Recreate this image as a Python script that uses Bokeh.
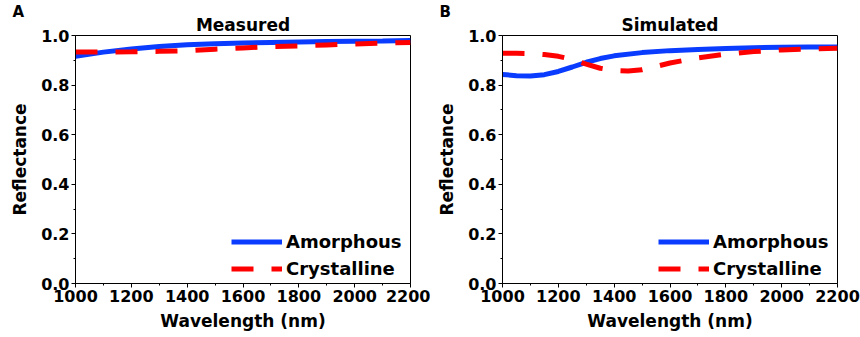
from bokeh.plotting import figure
from bokeh.layouts import row
from bokeh.models import FixedTicker, Range1d, Legend, LegendItem, CustomJSTickFormatter, Title
from bokeh.embed import file_html
from bokeh.resources import INLINE

# ---- data ----
meas_wl = [1000, 1100, 1200, 1300, 1400, 1500, 1600, 1700, 1800, 1900, 2000, 2100, 2200]
meas_amorphous = [0.916, 0.933, 0.946, 0.956, 0.963, 0.967, 0.970, 0.972, 0.974, 0.976, 0.977, 0.978, 0.980]
meas_crystalline = [0.933, 0.933, 0.934, 0.936, 0.939, 0.945, 0.950, 0.955, 0.958, 0.962, 0.966, 0.969, 0.972]

sim_wl_a = [1000, 1050, 1100, 1150, 1200, 1250, 1300, 1350, 1400, 1500, 1600, 1700, 1800, 1900, 2000, 2100, 2200]
sim_amorphous = [0.843, 0.838, 0.837, 0.842, 0.855, 0.873, 0.892, 0.907, 0.918, 0.931, 0.939, 0.944, 0.948, 0.951, 0.953, 0.954, 0.954]
sim_wl_c = [1000, 1050, 1100, 1150, 1200, 1250, 1300, 1350, 1400, 1450, 1500, 1550, 1600, 1700, 1800, 1900, 2000, 2100, 2200]
sim_crystalline = [0.928, 0.928, 0.927, 0.923, 0.916, 0.903, 0.885, 0.868, 0.859, 0.857, 0.862, 0.875, 0.889, 0.910, 0.925, 0.935, 0.942, 0.946, 0.949]

x_ticks = [1000, 1200, 1400, 1600, 1800, 2000, 2200]
x_minor = [1100, 1300, 1500, 1700, 1900, 2100]
y_ticks = [0.0, 0.2, 0.4, 0.6, 0.8, 1.0]
y_minor = [0.1, 0.3, 0.5, 0.7, 0.9]

series_names = ["Amorphous", "Crystalline"]
panel_titles = ["Measured", "Simulated"]
panel_letters = ["A", "B"]

FONT = "DejaVu Sans"
BLUE = "#0a3cff"
RED = "#ff0000"


def make_panel(title, letter, wl_a, ya, wl_c, yc, left, right):
    p = figure(width=430, height=337, output_backend="svg", toolbar_location=None,
               x_range=Range1d(1000, 2200), y_range=Range1d(0, 1.0),
               min_border_left=left, min_border_right=right,
               min_border_top=35, min_border_bottom=54)

    # main panel title (nearest to the frame)
    p.add_layout(Title(text=title, align="center", standoff=2, offset=0,
                       text_font=FONT, text_font_style="bold", text_font_size="17px",
                       text_color="black"), "above")
    # panel letter as a second title, shifted left of the frame
    p.add_layout(Title(text=letter, align="left", offset=-63, standoff=-19,
                       text_font=FONT, text_font_style="bold", text_font_size="15px",
                       text_color="black"), "above")

    p.grid.visible = False
    p.outline_line_color = "black"
    p.outline_line_width = 1
    p.background_fill_color = "white"
    p.border_fill_color = "white"

    p.xaxis.ticker = FixedTicker(ticks=x_ticks, minor_ticks=x_minor)
    p.yaxis.ticker = FixedTicker(ticks=y_ticks, minor_ticks=y_minor)
    p.yaxis.formatter = CustomJSTickFormatter(code="return tick.toFixed(1);")

    for ax in (p.xaxis[0], p.yaxis[0]):
        ax.major_tick_out = 4
        ax.major_tick_in = 0
        ax.minor_tick_out = 2
        ax.minor_tick_in = 0
        ax.axis_line_color = "black"
        ax.major_tick_line_color = "black"
        ax.minor_tick_line_color = "black"
        ax.major_label_text_font = FONT
        ax.major_label_text_font_style = "bold"
        ax.major_label_text_font_size = "16px"
        ax.major_label_text_color = "black"
        ax.axis_label_text_font = FONT
        ax.axis_label_text_font_style = "bold"
        ax.axis_label_text_font_size = "17px"
        ax.axis_label_text_color = "black"
    p.xaxis.axis_label = "Wavelength (nm)"
    p.yaxis.axis_label = "Reflectance"
    p.xaxis.major_label_standoff = 2
    p.yaxis.major_label_standoff = 2
    p.xaxis.axis_label_standoff = 6
    p.yaxis.axis_label_standoff = 8

    r1 = p.line(wl_a, ya, line_color=BLUE, line_width=5)
    r2 = p.line(wl_c, yc, line_color=RED, line_width=5, line_dash="22 18")

    legend = Legend(items=[LegendItem(label=series_names[0], renderers=[r1]),
                           LegendItem(label=series_names[1], renderers=[r2])],
                    location=(156, 1))
    legend.padding = 0
    legend.margin = 0
    legend.spacing = 0
    legend.glyph_width = 51
    legend.glyph_height = 27
    legend.label_height = 27
    legend.label_standoff = 4
    legend.label_text_font = FONT
    legend.label_text_font_style = "bold"
    legend.label_text_font_size = "18px"
    legend.label_text_color = "black"
    legend.border_line_alpha = 0
    legend.background_fill_alpha = 0
    p.add_layout(legend, "center")
    return p


p1 = make_panel(panel_titles[0], panel_letters[0], meas_wl, meas_amorphous, meas_wl, meas_crystalline, 75, 20)
p2 = make_panel(panel_titles[1], panel_letters[1], sim_wl_a, sim_amorphous, sim_wl_c, sim_crystalline, 72, 23)

layout = row(p1, p2)
open("out.html", "w").write(file_html(layout, INLINE))
